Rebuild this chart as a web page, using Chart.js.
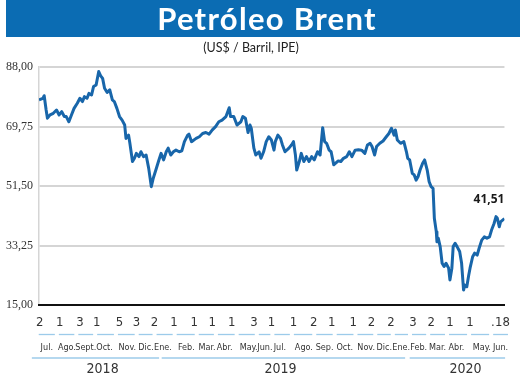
<!DOCTYPE html>
<html>
<head>
<meta charset="utf-8">
<script src="https://cdn.jsdelivr.net/npm/chart.js@4"></script>
<style>
  html, body { margin: 0; padding: 0; background: #fff; }
  #wrap { position: relative; width: 520px; height: 378px; overflow: hidden; }
  #banner { position: absolute; left: 6px; top: 0; width: 514px; height: 37px; background: #0b6cb3;
    color: #fff; font-family: Lato, "Open Sans", sans-serif; font-weight: bold; font-size: 31px;
    line-height: 37px; text-align: center; letter-spacing: 1.3px; padding-left: 8px; box-sizing: border-box; }
  #sub { position: absolute; left: 0; top: 40px; width: 502px; text-align: center;
    font-family: Lato, "Open Sans", sans-serif; font-size: 12.5px; color: #222; }
  canvas { position: absolute; left: 0; top: 0; }
</style>
</head>
<body>
<div id="wrap">
  <canvas id="c" width="520" height="378"></canvas>
  <div id="banner">Petróleo Brent</div>
  <div id="sub">(US$ / Barril, IPE)</div>
</div>
<script>
// ---- data (x = days since 1 Jul 2018, y = US$ / barril) ----
const days = [1,7,9,12,14,18,23,28,32,36,40,43,47,51,55,60,64,68,71,75,78,82,85,89,93,96,99,102,106,110,114,117,121,125,129,133,135,139,141,145,148,151,155,158,162,166,170,174,177,181,185,189,193,197,200,204,208,212,217,221,225,230,232,236,243,248,253,258,263,268,273,278,283,289,294,296,301,306,312,315,319,323,326,328,332,335,340,343,347,351,355,359,363,365,369,373,376,380,386,390,393,396,398,402,405,409,413,417,421,425,430,434,438,441,444,448,451,455,458,462,466,470,475,479,483,488,493,498,503,507,511,514,518,521,526,531,536,540,544,548,550,553,558,563,567,569,572,576,579,582,585,588,592,595,599,602,605,608,610,613,614,616,619,622,625,628,632,634,637,639,642,645,649,652,655,657,660,663,665,669,672,676,679,683,687,691,695,698,702,705,707,710,712,718];
const prices = [77.9,78.4,79.2,74.8,72.3,73.3,73.8,74.8,73.3,74.3,72.8,72.8,71.2,73.3,75.3,76.9,78.4,77.4,78.9,78.4,79.9,79.4,82.0,82.5,86.6,85.3,84.5,81.5,80.2,81.0,77.9,77.4,75.3,72.8,71.7,70.2,66.1,67.1,64.6,59.0,60.0,61.5,60.5,62.0,60.5,61.0,56.9,51.3,53.9,56.4,59.0,61.5,59.5,62.0,63.1,61.0,62.0,62.5,62.0,62.3,65.1,67.1,67.4,65.1,66.1,66.6,67.6,67.9,67.4,68.7,69.7,71.2,71.7,72.8,75.5,72.8,72.8,70.2,71.2,72.8,72.3,67.9,70.2,69.2,63.1,61.0,62.0,60.0,62.0,65.1,66.6,65.6,62.5,65.1,67.1,66.1,64.1,62.0,63.1,64.1,65.1,61.0,56.4,59.0,61.5,59.0,60.5,59.0,60.5,59.5,62.0,61.0,69.4,65.1,64.6,62.5,62.0,58.0,58.5,59.2,59.0,60.0,60.5,62.0,60.5,62.5,62.6,62.5,61.5,64.1,64.6,63.6,61.0,63.6,64.6,65.3,66.6,67.6,69.2,67.1,68.7,65.6,64.6,65.1,62.0,60.0,59.5,55.4,54.9,53.3,54.4,56.4,58.5,59.5,56.4,52.8,51.3,50.8,41.6,37.5,34.4,35.5,32.9,27.8,26.8,27.8,26.3,22.7,26.3,32.9,33.9,32.9,31.4,27.8,19.6,21.1,20.6,24.2,26.3,29.8,30.9,30.3,32.4,34.9,35.9,35.5,35.9,37.9,40.0,42.1,41.6,39.0,40.5,41.51];
const lastLabel = "41,51";

// ---- axis labels ----
const yTicks = [15, 33.25, 51.5, 69.75, 88];
const dayTickPos = [2,33,64,90,125,151,179,209,240,268,298,332,359,393,424,452,485,513,543,577,605,634,665,700,715];
const dayTickLabels = ["2","1","3","1","5","3","2","1","1","1","1","3","1","1","2","1","1","2","2","3","2","1","1",".","18"];
const monthPos = [13,44,73,102,137,166,192,228,260,287,324,349,372,409,441,472,505,533,559,586,615,644,683,712];
const monthLabels = ["Jul.","Ago.","Sept.","Oct.","Nov.","Dic.","Ene.","Feb.","Mar.","Abr.","May.","Jun.","Jul.","Ago.","Sep.","Oct.","Nov.","Dic.","Ene.","Feb.","Mar.","Abr.","May.","Jun."];
const yearPos = [99,373,658];
const yearLabels = ["2018","2019","2020"];
const yearSpans = [[-10,186],[190,565],[572,719]];

const points = days.map((d, i) => ({x: d, y: prices[i]}));

const narrow = '"Liberation Sans Narrow", "DejaVu Sans Condensed", sans-serif';

const decor = {
  id: 'decor',
  afterDraw(chart) {
    const ctx = chart.ctx;
    const xm = chart.scales.xMonth, xy = chart.scales.xYear;
    ctx.save();
    ctx.strokeStyle = '#9ccbea';
    ctx.lineWidth = 1.3;
    // month underlines
    const bounds = [];
    for (let i = 0; i <= monthPos.length; i++) {
      let px;
      if (i === 0) px = xm.getPixelForValue(monthPos[0]) - (xm.getPixelForValue(monthPos[1]) - xm.getPixelForValue(monthPos[0])) / 2;
      else if (i === monthPos.length) px = xm.getPixelForValue(monthPos[i-1]) + (xm.getPixelForValue(monthPos[i-1]) - xm.getPixelForValue(monthPos[i-2])) / 2;
      else px = (xm.getPixelForValue(monthPos[i-1]) + xm.getPixelForValue(monthPos[i])) / 2;
      bounds.push(px);
    }
    const yM = xm.top - 0.5;
    for (let i = 0; i < monthPos.length; i++) {
      ctx.beginPath();
      ctx.moveTo(bounds[i] + 2, yM);
      ctx.lineTo(bounds[i+1] - 2, yM);
      ctx.stroke();
    }
    const yY = xy.top + 1;
    yearSpans.forEach(s => {
      ctx.beginPath();
      ctx.moveTo(xy.getPixelForValue(s[0]), yY);
      ctx.lineTo(xy.getPixelForValue(s[1]), yY);
      ctx.stroke();
    });
    // last value label
    const meta = chart.getDatasetMeta(0);
    const last = meta.data[meta.data.length - 1];
    ctx.fillStyle = '#1a1a1a';
    ctx.font = 'bold 12px "Open Sans", sans-serif';
    ctx.textAlign = 'right';
    ctx.textBaseline = 'middle';
    ctx.fillText(lastLabel, last.x, last.y - 19);
    ctx.restore();
  }
};

new Chart(document.getElementById('c'), {
  type: 'line',
  data: {
    datasets: [{
      data: points,
      borderColor: '#1866aa',
      borderWidth: 3,
      pointRadius: 0,
      tension: 0,
      borderJoinStyle: 'round',
      fill: false
    }]
  },
  options: {
    responsive: false,
    animation: false,
    events: [],
    layout: { padding: { top: 67, right: 13, left: 0, bottom: 0 } },
    plugins: { legend: { display: false }, tooltip: { enabled: false }, title: { display: false } },
    scales: {
      y: {
        type: 'linear',
        min: 15, max: 88,
        afterBuildTicks: s => { s.ticks = yTicks.map(v => ({value: v})); },
        afterFit: s => { s.width = 39; },
        ticks: {
          padding: 6,
          color: '#333',
          font: { family: '"Liberation Serif", serif', size: 12 },
          callback: v => v.toFixed(2).replace('.', ',')
        },
        grid: {
          drawTicks: false,
          color: ctx => (ctx.tick && ctx.tick.value === 15) ? 'rgba(0,0,0,0)' : '#d5d5d5',
          lineWidth: 2
        },
        border: { display: true, color: '#d5d5d5', width: 1.5 }
      },
      x: {
        type: 'linear',
        position: 'bottom',
        min: 1, max: 718,
        afterBuildTicks: s => { s.ticks = dayTickPos.map(v => ({value: v})); },
        afterFit: s => { s.height = 30; },
        ticks: {
          autoSkip: false, maxRotation: 0, padding: 10,
          color: '#333',
          font: { family: narrow, size: 13 },
          callback: (v, i) => dayTickLabels[i]
        },
        grid: { display: false, drawTicks: false },
        border: { display: true, color: '#111', width: 2 }
      },
      xMonth: {
        type: 'linear',
        position: 'bottom',
        min: 1, max: 718,
        afterBuildTicks: s => { s.ticks = monthPos.map(v => ({value: v})); },
        afterFit: s => { s.height = 22; },
        ticks: {
          autoSkip: false, maxRotation: 0, padding: 7,
          color: '#333',
          font: { family: narrow, size: 9 },
          callback: (v, i) => monthLabels[i]
        },
        grid: { display: false, drawTicks: false },
        border: { display: false }
      },
      xYear: {
        type: 'linear',
        position: 'bottom',
        min: 1, max: 718,
        afterBuildTicks: s => { s.ticks = yearPos.map(v => ({value: v})); },
        afterFit: s => { s.height = 21; },
        ticks: {
          autoSkip: false, maxRotation: 0, padding: 4,
          color: '#333',
          font: { family: narrow, size: 14 },
          callback: (v, i) => yearLabels[i]
        },
        grid: { display: false, drawTicks: false },
        border: { display: false }
      }
    }
  },
  plugins: [decor]
});
</script>
</body>
</html>
